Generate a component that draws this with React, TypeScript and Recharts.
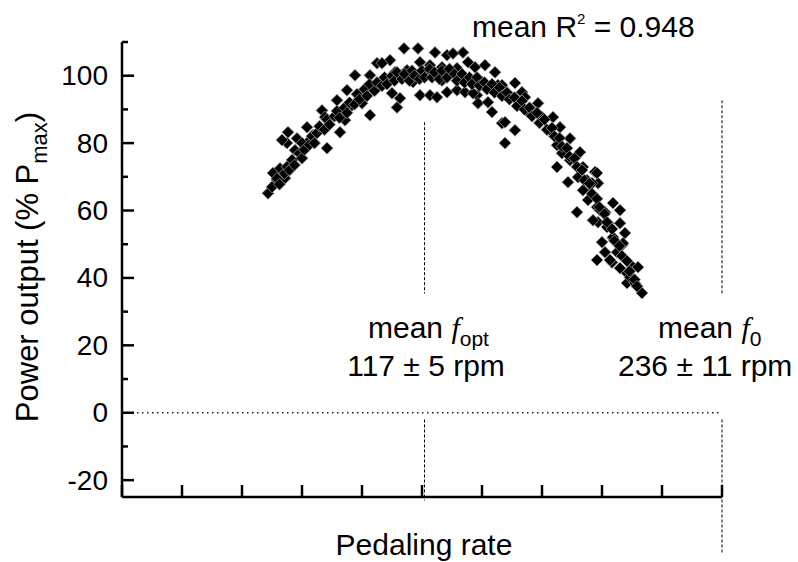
import React from 'react';
import { ComposedChart, Scatter, Line, XAxis, YAxis, ReferenceLine } from 'recharts';

// Observed power output (% Pmax) vs pedaling rate (chart x units)
const observedRate: number[] = [
  58.4, 60.4, 62, 63.2, 65.2, 66.4, 66, 70, 74, 74.4, 82, 87.2, 80, 81.2, 86, 89.2, 90, 93.2, 99.2, 99.2, 96, 102, 97.2, 92, 69.2, 72, 64, 76.4, 107.2, 104,
  112.8, 118.4, 125.2, 130, 136.4, 132.4, 109.2, 114, 119.2, 123.2, 128, 134, 138.4, 141.2, 145.2, 149.2, 103.2, 108, 110, 111.2, 119.2, 123.2, 126, 130, 134, 137.2, 142, 142.4, 146.4, 148, 152, 116.4, 128, 137.2, 144, 150.4, 140.4,
  157.2, 160, 153.2, 157.2, 153.2, 152, 161.2, 166.4, 162.4, 168, 172.4, 175.2, 171.2, 179.2, 174, 176, 183.2, 174, 179.2, 184.4, 189.2, 178.4, 186, 190.4, 182.4,
  182, 184.4, 188, 186.4, 190, 193.2, 196.4, 190.4, 194.4, 199.2, 201.2, 192, 196.4, 200, 190, 193.2, 198, 196, 199.2, 202, 202, 195.2, 204.4, 206.4, 203.2, 205.2, 208, 188.4, 194, 196.4, 200.4, 191.2, 199.2, 190,
  60, 62, 63, 65, 66, 67, 68, 69, 71, 72, 73, 75, 76, 77, 78, 79, 81, 82, 83, 85, 86, 87, 89, 90, 91, 93, 94, 95, 97, 98, 99, 101, 102, 104, 105, 106, 108, 109, 110, 112, 113, 115, 116, 117, 119, 120, 121, 123, 124, 125, 127, 128, 130, 131, 133, 134, 136, 137, 139, 140, 142, 143, 145, 146, 148, 149, 151, 152, 154, 155, 157, 158, 160, 161, 163, 164, 166, 167, 169, 170, 172, 173, 175, 176, 178, 179, 181, 182, 184, 185, 187, 188, 190, 191, 193, 194, 196, 197, 199, 200, 202, 203, 205, 206,
];
const observedPower: number[] = [
  65.1, 71.1, 69.0, 72.5, 69.6, 83.2, 80, 81.4, 84.7, 80.3, 78.5, 83.2, 89.7, 87.7, 92.7, 86.8, 95.7, 100.1, 100.1, 88.3, 91.8, 103.7, 95.7, 91.2, 77.9, 80, 80.9, 82.3, 104.6, 103.7,
  108.1, 108.1, 106.9, 106.1, 106.9, 106.6, 101, 101.6, 104, 103.1, 102.5, 102.2, 104, 102.5, 103.1, 101, 97.2, 94.8, 90.6, 93.3, 94.2, 94.2, 93.6, 95.1, 95.7, 95.1, 94.2, 91.8, 92.1, 89.2, 85.9, 98.1, 98.6, 99.2, 98.1, 97.2, 94.8,
  97.8, 95.1, 86.2, 83.8, 80, 97.2, 93.6, 91.8, 89.2, 87.7, 87.7, 84.7, 83.8, 81.4, 79.4, 77, 77.3, 72.9, 74.9, 72.9, 71.4, 68.4, 69, 68.1, 69.9,
  59.5, 66, 68.1, 63.1, 61, 59.5, 62.2, 56.5, 56.2, 56.2, 53.3, 50.6, 51.8, 49.7, 45.3, 47.6, 47.6, 44.6, 42.9, 41.4, 38.5, 45.3, 43.2, 43.2, 40.2, 38.5, 35.5, 57.1, 55.1, 52.1, 50.3, 60.1, 60.1, 71.1,
  67, 69.5, 67.8, 71, 73, 72, 75, 73.5, 77, 75.5, 78, 79.5, 82, 80, 83, 85, 84, 87, 85.5, 88, 89.5, 87.5, 90.5, 89, 92, 91.5, 94.5, 93, 96, 94, 97.5, 95.5, 98, 97, 99.5, 97.5, 100, 98.5, 101, 99, 100.5, 98.5, 101.5, 100, 99, 101.5, 99.5, 102, 99.5, 101, 99, 101.5, 99.5, 102, 100.5, 98.5, 100.5, 98, 99.5, 97.5, 99.5, 97, 98, 96, 97.5, 95, 96.5, 94, 95, 93, 93.5, 91, 92.5, 90, 90.5, 88, 89, 86, 87, 84, 84.5, 82, 81.5, 79, 78.5, 76, 75.5, 73, 72, 69, 68, 65, 63.5, 61, 59, 56.5, 54.5, 51, 49.5, 46.5, 45, 42, 39.5, 37.5,
];

// Fitted curve
const fitRate: number[] = [58.5, 64, 70, 76, 82, 88, 94, 100, 106, 112, 118, 124, 130, 136, 142, 148, 154, 160, 166, 172, 178, 184, 190, 196, 202, 208];
const fitPower: number[] = [65, 70.5, 75.5, 81, 86, 89.8, 93.5, 96.3, 98.5, 99.9, 100.6, 100.7, 100.4, 99.6, 98.4, 96.7, 94.6, 91.8, 88, 83.3, 77.5, 70.3, 62, 53, 44, 35.5];

const xTicks: number[] = [0, 24, 48, 72, 96, 120, 144, 168, 192, 216, 240];
const yTicks: number[] = [-20, -10, 0, 10, 20, 30, 40, 50, 60, 70, 80, 90, 100, 110];
const fOptRate = 121;
const f0Rate = 240;

const scatterData = observedRate.map((x, i) => ({ x, y: observedPower[i] }));
const lineData = fitRate.map((x, i) => ({ x, y: fitPower[i] }));

const SANS = '"Liberation Sans", Arial, Helvetica, sans-serif';
const SERIF = '"Liberation Serif", "Times New Roman", serif';
const Y_TICK_MARGIN = 14;

const Diamond = (props: any) => {
  const { cx, cy } = props;
  if (cx == null || cy == null) return null;
  const r = 6;
  return (
    <polygon
      points={`${cx},${cy - r} ${cx + r},${cy} ${cx},${cy + r} ${cx - r},${cy}`}
      fill="#000"
      stroke="#9a9a9a"
      strokeWidth={0.8}
    />
  );
};

const YTick = (props: any) => {
  const { x, y, payload } = props;
  const axisX = x + Y_TICK_MARGIN;
  const major = payload.value % 20 === 0;
  return (
    <g>
      <line x1={axisX} y1={y} x2={axisX + (major ? 12 : 6)} y2={y} stroke="#000" strokeWidth={2.5} />
      {major && (
        <text x={x} y={y} textAnchor="end" dominantBaseline="central" fontSize={28} fontFamily={SANS} fill="#000">
          {payload.value}
        </text>
      )}
    </g>
  );
};

const XTick = (props: any) => {
  const { x, y } = props;
  return <line x1={x} y1={y} x2={x} y2={y - 12} stroke="#000" strokeWidth={2.5} />;
};

export default function App() {
  return (
    <div style={{ position: 'fixed', left: 0, top: 0, width: 798, height: 562, background: '#fff' }}>
      <ComposedChart width={798} height={562} margin={{ top: 42, right: 76, bottom: 0, left: 0 }}>
        <XAxis
          type="number"
          dataKey="x"
          domain={[0, 240]}
          ticks={xTicks}
          interval={0}
          tickSize={0}
          tickMargin={0}
          tick={<XTick />}
          tickLine={false}
          axisLine={{ stroke: '#000', strokeWidth: 2.5 }}
          height={65}
        />
        <YAxis
          type="number"
          domain={[-25, 110]}
          ticks={yTicks}
          interval={0}
          tickSize={0}
          tickMargin={Y_TICK_MARGIN}
          tick={<YTick />}
          tickLine={false}
          axisLine={{ stroke: '#000', strokeWidth: 2.5 }}
          width={122}
        />
        <ReferenceLine
          segment={[{ x: 0, y: 0 }, { x: 239, y: 0 }]}
          stroke="#222"
          strokeWidth={1.5}
          strokeDasharray="1.5 3.5"
          ifOverflow="visible"
        />
        <ReferenceLine
          segment={[{ x: fOptRate, y: 86.2 }, { x: fOptRate, y: 35.4 }]}
          stroke="#000"
          strokeWidth={1}
          strokeDasharray="3 2"
          ifOverflow="visible"
        />
        <ReferenceLine
          segment={[{ x: fOptRate, y: -2 }, { x: fOptRate, y: -26 }]}
          stroke="#000"
          strokeWidth={1}
          strokeDasharray="3 2"
          ifOverflow="visible"
        />
        <ReferenceLine
          segment={[{ x: f0Rate, y: 92.7 }, { x: f0Rate, y: 35.4 }]}
          stroke="#000"
          strokeWidth={1}
          strokeDasharray="3 2"
          ifOverflow="visible"
        />
        <ReferenceLine
          segment={[{ x: f0Rate, y: -2 }, { x: f0Rate, y: -42 }]}
          stroke="#000"
          strokeWidth={1}
          strokeDasharray="3 2"
          ifOverflow="visible"
        />
        <Scatter data={scatterData} dataKey="y" shape={<Diamond />} isAnimationActive={false} />
        <Line
          data={lineData}
          dataKey="y"
          type="monotone"
          dot={false}
          stroke="#000"
          strokeWidth={2.5}
          isAnimationActive={false}
        />
      </ComposedChart>
      <svg
        width={798}
        height={562}
        style={{ position: 'absolute', left: 0, top: 0, pointerEvents: 'none' }}
        fontFamily={SANS}
        fill="#000"
      >
        <text x={472} y={37} fontSize={30}>
          mean R<tspan dy={-13} fontSize={15}>2</tspan>
          <tspan dy={13}> = 0.948</tspan>
        </text>
        <text x={368} y={338} fontSize={30}>
          mean <tspan fontFamily={SERIF} fontStyle="italic">f</tspan>
          <tspan dy={8} fontSize={21}>opt</tspan>
        </text>
        <text x={426} y={376} fontSize={30} textAnchor="middle">
          117 ± 5 rpm
        </text>
        <text x={658} y={338} fontSize={30}>
          mean <tspan fontFamily={SERIF} fontStyle="italic">f</tspan>
          <tspan dy={8} fontSize={21}>0</tspan>
        </text>
        <text x={618} y={376} fontSize={30}>
          236 ± 11 rpm
        </text>
        <text x={424} y={555} fontSize={30} textAnchor="middle">
          Pedaling rate
        </text>
        <text transform="translate(38,267) rotate(-90)" fontSize={31} textAnchor="middle">
          Power output (% P<tspan dy={9} fontSize={22}>max</tspan>
          <tspan dy={-9}>)</tspan>
        </text>
      </svg>
    </div>
  );
}
